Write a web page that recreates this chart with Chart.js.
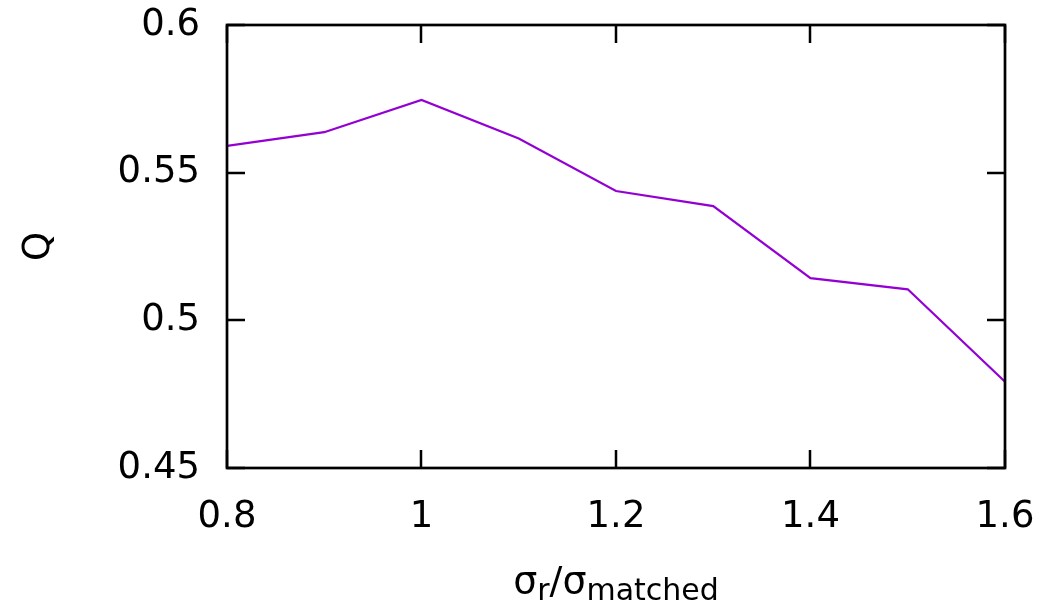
<!DOCTYPE html>
<html>
<head>
<meta charset="utf-8">
<title>Q vs sigma ratio</title>
<script src="https://cdn.jsdelivr.net/npm/chart.js@4.4.1/dist/chart.umd.min.js"></script>
<style>
  html, body { margin: 0; padding: 0; background: #fff; }
  #wrap { width: 1063px; height: 605px; }
</style>
</head>
<body>
<div id="wrap"><canvas id="chart-q"></canvas></div>
<script>
// --- Data ---
const sigmaRatio = [0.8, 0.9, 1.0, 1.1, 1.2, 1.3, 1.4, 1.5, 1.6];
const qValues = [0.5591, 0.5637, 0.5746, 0.5616, 0.5438, 0.5387, 0.5143, 0.5105, 0.4792];
const xTicks = [0.8, 1.0, 1.2, 1.4, 1.6];
const xTickLabels = ['0.8', '1', '1.2', '1.4', '1.6'];
const yTicks = [0.45, 0.5, 0.55, 0.6];
const yTickLabels = ['0.45', '0.5', '0.55', '0.6'];

const FONT = 'DejaVu Sans';
const TICK_LEN = 18;

// frame + inward ticks on all four sides (gnuplot style)
const framePlugin = {
  id: 'frame',
  afterDatasetsDraw(chart) {
    const { ctx, chartArea: a, scales } = chart;
    ctx.save();
    ctx.strokeStyle = '#000';
    ctx.lineWidth = 2.5;
    ctx.beginPath();
    xTicks.forEach(v => {
      const px = Math.round(scales.x.getPixelForValue(v));
      ctx.moveTo(px, a.bottom); ctx.lineTo(px, a.bottom - TICK_LEN);
      ctx.moveTo(px, a.top); ctx.lineTo(px, a.top + TICK_LEN);
    });
    yTicks.forEach(v => {
      const py = Math.round(scales.y.getPixelForValue(v));
      ctx.moveTo(a.left, py); ctx.lineTo(a.left + TICK_LEN, py);
      ctx.moveTo(a.right, py); ctx.lineTo(a.right - TICK_LEN, py);
    });
    ctx.stroke();
    ctx.lineWidth = 2.7;
    ctx.strokeRect(a.left, a.top, a.right - a.left, a.bottom - a.top);
    ctx.restore();
  }
};

// axis titles: rotated "Q" and the subscripted sigma ratio
const axisTitlePlugin = {
  id: 'axisTitles',
  afterDraw(chart) {
    const { ctx, chartArea: a } = chart;
    ctx.save();
    ctx.fillStyle = '#000';

    // y title
    ctx.save();
    ctx.translate(39, (a.top + a.bottom) / 2);
    ctx.rotate(-Math.PI / 2);
    ctx.font = `37px ${FONT}`;
    ctx.textAlign = 'center';
    ctx.textBaseline = 'middle';
    ctx.fillText('Q', 0, 0);
    ctx.restore();

    // x title: σ_r / σ_matched
    const parts = [
      { t: 'σ', size: 38, dy: 0 },
      { t: 'r', size: 30, dy: 7 },
      { t: '/σ', size: 38, dy: 0 },
      { t: 'matched', size: 30, dy: 7 }
    ];
    ctx.textBaseline = 'alphabetic';
    ctx.textAlign = 'left';
    let total = 0;
    parts.forEach(p => {
      ctx.font = `${p.size}px ${FONT}`;
      p.w = ctx.measureText(p.t).width;
      total += p.w;
    });
    let x = (a.left + a.right) / 2 - total / 2;
    const base = 593;
    parts.forEach(p => {
      ctx.font = `${p.size}px ${FONT}`;
      ctx.fillText(p.t, x, base + p.dy);
      x += p.w;
    });
    ctx.restore();
  }
};

const ctx = document.getElementById('chart-q').getContext('2d');
new Chart(ctx, {
  type: 'line',
  data: {
    datasets: [{
      data: sigmaRatio.map((s, i) => ({ x: s, y: qValues[i] })),
      borderColor: '#9400d3',
      borderWidth: 2.2,
      pointRadius: 0,
      tension: 0,
      fill: false
    }]
  },
  options: {
    responsive: true,
    maintainAspectRatio: false,
    animation: false,
    layout: { padding: { top: 25, right: 58, left: 0, bottom: 0 } },
    plugins: {
      legend: { display: false },
      tooltip: { enabled: false }
    },
    scales: {
      x: {
        type: 'linear',
        min: 0.8,
        max: 1.6,
        afterFit: s => { s.height = 137; s.paddingLeft = 0; s.paddingRight = 0; },
        afterBuildTicks: s => { s.ticks = xTicks.map(v => ({ value: v })); },
        grid: { display: false, drawTicks: false },
        border: { display: false },
        ticks: {
          color: '#000',
          padding: 27,
          maxRotation: 0,
          font: { family: FONT, size: 37 },
          callback: (v, i) => xTickLabels[i]
        }
      },
      y: {
        min: 0.45,
        max: 0.6,
        afterFit: s => { s.width = 227; s.paddingTop = 0; s.paddingBottom = 0; },
        afterBuildTicks: s => { s.ticks = yTicks.map(v => ({ value: v })); },
        grid: { display: false, drawTicks: false },
        border: { display: false },
        ticks: {
          color: '#000',
          padding: 27,
          font: { family: FONT, size: 37 },
          callback: (v, i) => yTickLabels[i]
        }
      }
    }
  },
  plugins: [framePlugin, axisTitlePlugin]
});
</script>
</body>
</html>
